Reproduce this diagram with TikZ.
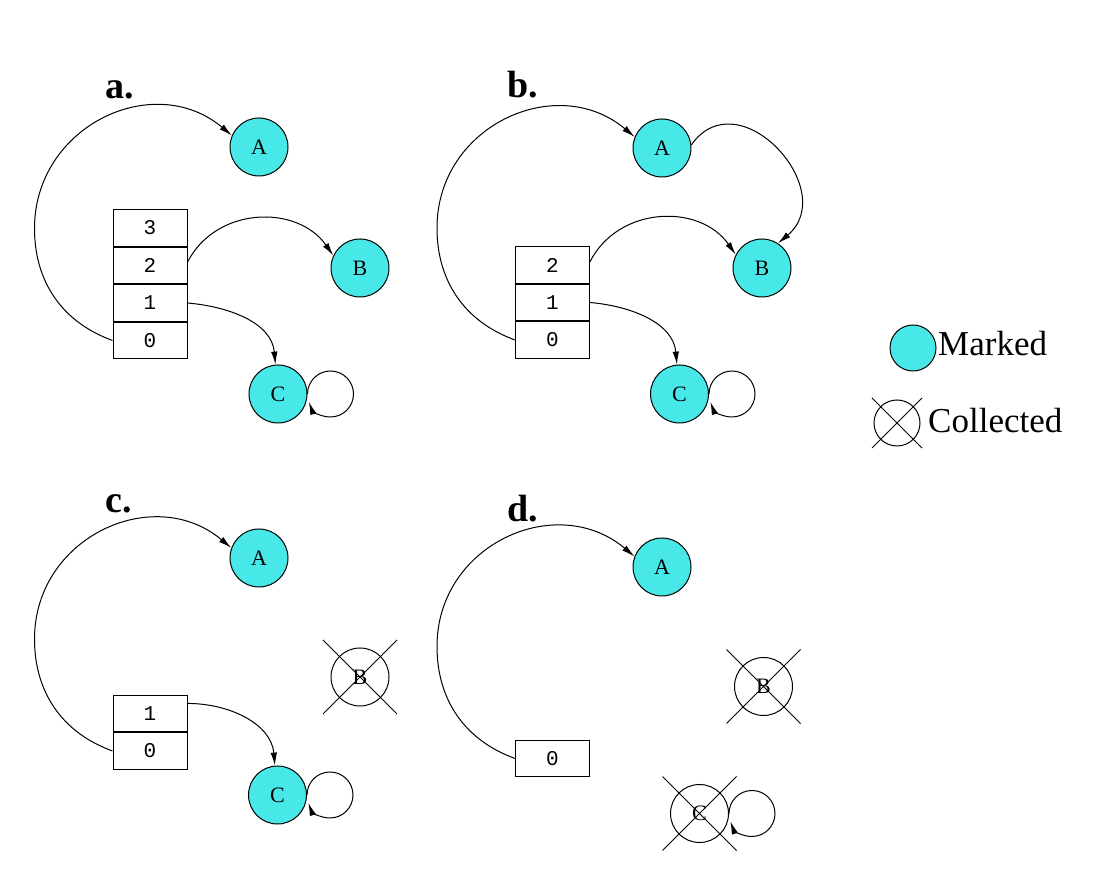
\documentclass[tikz,border=0pt]{standalone}
\usepackage{fontspec}
\setmainfont{Liberation Serif}
\setmonofont{Liberation Mono}
\usetikzlibrary{arrows.meta,positioning}

\definecolor{markcyan}{RGB}{72,232,232}

\tikzset{
  obj/.style={circle, draw, line width=1pt, minimum size=58pt, inner sep=0pt, font=\fontsize{22}{22}\selectfont},
  marked/.style={obj, fill=markcyan},
  cell/.style={draw, line width=1pt, minimum width=74pt, minimum height=36.5pt, inner sep=0pt, font=\ttfamily\fontsize{21}{21}\selectfont},
  ptr/.style={line width=1pt, -{Latex[length=13pt,width=6.5pt]}},
  panel/.style={anchor=base west, inner sep=0pt, font=\bfseries\fontsize{38}{38}\selectfont},
  legend/.style={anchor=base west, inner sep=0pt, font=\fontsize{35}{35}\selectfont},
}

\begin{document}
\begin{tikzpicture}[x=1pt, y=1pt, node distance=0pt]
\useasboundingbox (0,0) rectangle (1114,869);

% a. four stack slots
\node[panel] (la) at (105,770) {a.};
\node[marked] (Aa) at (259,722) {A};
\node[marked] (Ba) at (360,601) {B};
\node[marked] (Ca) at (278,475) {C};
\node[cell] (a3) at (150,641) {3};
\node[cell, below=of a3] (a2) {2};
\node[cell, below=of a2] (a1) {1};
\node[cell, below=of a1] (a0) {0};

\draw[ptr] (a0.west) to[out=160, in=-90] +(-78,112) to[out=90, in=140, looseness=1.2] (Aa.157);
\draw[ptr] (a2.5) to[out=63, in=125, looseness=1.1] (Ba.155);
\draw[ptr] (a1.east) to[out=-5, in=95] (Ca.95);
\draw[ptr] (Ca.east) arc[start angle=180, end angle=-160, radius=23];

% b. A now points to B
\node[panel] (lb) at (507,771) {b.};
\node[marked] (Ab) at (662,721) {A};
\node[marked] (Bb) at (762,601) {B};
\node[marked] (Cb) at (679.5,475) {C};
\node[cell] (b2) at (552.5,604) {2};
\node[cell, below=of b2] (b1) {1};
\node[cell, below=of b1] (b0) {0};

\draw[ptr] (b0.west) to[out=160, in=-90] +(-78,112) to[out=90, in=140, looseness=1.2] (Ab.158);
\draw[ptr] (Ab.6) to[out=55, in=40, looseness=1.6] (Bb.57);
\draw[ptr] (b2.5) to[out=63, in=125, looseness=1.1] (Bb.153);
\draw[ptr] (b1.east) to[out=-5, in=95] (Cb.95);
\draw[ptr] (Cb.east) arc[start angle=180, end angle=-160, radius=23];

% c. B is gone
\node[panel] (lc) at (105,356) {c.};
\node[marked] (Ac) at (259,311) {A};
\node[obj] (Bc) at (360,192) {B};
\node[marked] (Cc) at (277.5,74) {C};
\node[cell] (c1) at (150,155.5) {1};
\node[cell, below=of c1] (c0) {0};

\draw[ptr] (c0.west) to[out=160, in=-90] +(-78,112) to[out=90, in=140, looseness=1.2] (Ac.160);
\draw[ptr] (c1.15) to[out=0, in=95] (Cc.95);
\draw[ptr] (Cc.east) arc[start angle=180, end angle=-160, radius=23];

% d. only A is left
\node[panel] (ld) at (507,347) {d.};
\node[marked] (Ad) at (662,302) {A};
\node[obj] (Bd) at (763.5,182.5) {B};
\node[obj] (Cd) at (699.5,55.5) {C};
\node[cell] (d0) at (552.5,110.5) {0};

\draw[ptr] (d0.west) to[out=160, in=-90] +(-78,112) to[out=90, in=140, looseness=1.2] (Ad.159);
\draw[ptr] (Cd.east) arc[start angle=180, end angle=-160, radius=23];

\foreach \n in {Bc,Bd,Cd}
  \draw[line width=1pt] (\n.center) ++(-37,37) -- ++(74,-74) (\n.center) ++(37,37) -- ++(-74,-74);

% legend
\node[marked, minimum size=46pt] (mk) at (913,521) {};
\node[legend] (mktext) at (938,513) {Marked};
\node[obj, minimum size=46pt] (cl) at (897,446) {};
\node[legend] (cltext) at (928,436) {Collected};
\draw[line width=1pt] (cl.center) ++(-25,25) -- ++(50,-50) (cl.center) ++(25,25) -- ++(-50,-50);
\end{tikzpicture}
\end{document}
